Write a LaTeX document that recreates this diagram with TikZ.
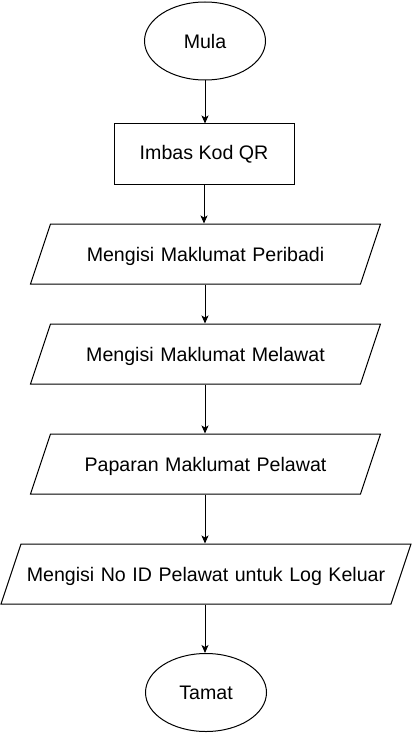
\documentclass[tikz,border=0pt]{standalone}
\usepackage{fontspec}
\setmainfont{Liberation Sans}
\usetikzlibrary{shapes.geometric,arrows.meta}

\begin{document}
\begin{tikzpicture}[x=1bp, y=-1bp,
    every node/.style={font=\fontsize{19.6bp}{24bp}\selectfont, line width=1bp, inner sep=0pt},
    terminal/.style={draw, ellipse, minimum width=121bp, minimum height=78bp},
    process/.style={draw, rectangle, minimum width=180bp, minimum height=60bp},
    io/.style={draw, trapezium, trapezium left angle=71.57, trapezium right angle=108.43,
      text height=37bp, text depth=23bp, text width=310bp, align=center},
    flow/.style={line width=1bp, -{Stealth[length=8bp, width=7bp, inset=2bp]}}]
    \useasboundingbox (0, 0) rectangle (412, 734);

    \node[terminal] (mula) at (205, 41) {Mula};
    \node[process] (imbas) at (204, 154) {Imbas Kod QR};
    \node[io] (peribadi) at (205.5, 254) {Mengisi Maklumat Peribadi};
    \node[io] (melawat) at (205.5, 354) {Mengisi Maklumat Melawat};
    \node[io] (paparan) at (205.5, 464) {Paparan Maklumat Pelawat};
    \node[io, text width=370bp] (keluar) at (206, 574)
      {Mengisi No ID Pelawat untuk Log Keluar};
    \node[terminal] (tamat) at (206, 692.5) {Tamat};

    %%%%
    \draw[flow] (mula.south) -- (mula.south |- imbas.north);
    \draw[flow] (imbas.south) -- (imbas.south |- peribadi.north);
    \draw[flow] (peribadi.south -| mula.south) -- (melawat.north -| mula.south);
    \draw[flow] (melawat.south -| mula.south) -- (paparan.north -| mula.south);
    \draw[flow] (paparan.south -| mula.south) -- (keluar.north -| mula.south);
    \draw[flow] (keluar.south -| mula.south) -- (tamat.north -| mula.south);
  \end{tikzpicture}
\end{document}
